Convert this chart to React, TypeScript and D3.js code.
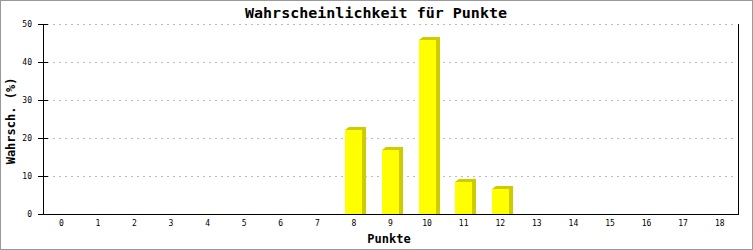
import React from "react";
import * as d3 from "d3";

const categories: string[] = ["0","1","2","3","4","5","6","7","8","9","10","11","12","13","14","15","16","17","18"];
const values: number[] = [0,0,0,0,0,0,0,0,22,16.9,45.9,8.4,6.6,0,0,0,0,0,0];
const yTicks: number[] = [0,10,20,30,40,50];
const title = "Wahrscheinlichkeit für Punkte";
const xTitle = "Punkte";
const yTitle = "Wahrsch. (%)";

export default function App() {
  const W = 753, H = 250;
  const left = 43, right = 738, top = 24, bottom = 214;
  const x = d3.scaleBand<string>().domain(categories).range([left, right]);
  const y = d3.scaleLinear().domain([0, 50]).range([bottom, top]);
  const bw = 17;
  const font = "'DejaVu Sans Mono', monospace";
  return (
    <svg width={W} height={H} style={{ position: "fixed", left: 0, top: 0 }} shapeRendering="crispEdges">
      <rect x={0.5} y={0.5} width={W - 1} height={H - 1} fill="#fff" stroke="#999" />
      {yTicks.filter(t => t > 0).map(t => (
        <line key={"g" + t} x1={left + 4} x2={right - 3} y1={Math.round(y(t)) + 0.5} y2={Math.round(y(t)) + 0.5}
          stroke="#bbb" strokeDasharray="2,4" />
      ))}
      {values.map((v, i) => {
        if (v <= 0) return null;
        const cx = (x(categories[i]) as number) + x.bandwidth() / 2;
        const x0 = Math.round(cx - bw / 2);
        const x1 = x0 + bw;
        const yt = Math.round(y(v));
        const pts = [[x0, yt], [x0 + 4, yt - 3], [x1 + 4, yt - 3], [x1 + 4, bottom], [x1, bottom]]
          .map(p => p.join(",")).join(" ");
        return (
          <g key={"b" + i}>
            <polygon points={pts} fill="#cccc00" shapeRendering="auto" />
            <rect x={x0} y={yt} width={bw} height={bottom - yt} fill="#ffff00" />
          </g>
        );
      })}
      <line x1={left + 0.5} x2={left + 0.5} y1={top} y2={bottom} stroke="#000" />
      <line x1={right + 0.5} x2={right + 0.5} y1={top} y2={bottom} stroke="#000" />
      <line x1={left - 5} x2={right + 1} y1={bottom + 0.5} y2={bottom + 0.5} stroke="#000" />
      {yTicks.map(t => (
        <g key={"t" + t}>
          <line x1={left - 5} x2={left + 5} y1={Math.round(y(t)) + 0.5} y2={Math.round(y(t)) + 0.5} stroke="#000" />
          <text x={32} y={y(t) + 3} textAnchor="end" fontFamily={font} fontSize={8} fill="#000">{t}</text>
        </g>
      ))}
      {categories.map(c => (
        <text key={"x" + c} x={(x(c) as number) + x.bandwidth() / 2} y={225.5} textAnchor="middle"
          fontFamily={font} fontSize={8} fill="#000">{c}</text>
      ))}
      <text x={376} y={18} textAnchor="middle" fontFamily={font} fontWeight="bold" fontSize={14}
        textLength={262} lengthAdjust="spacingAndGlyphs" fill="#000">{title}</text>
      <text x={389} y={243} textAnchor="middle" fontFamily={font} fontWeight="bold" fontSize={12} fill="#000">{xTitle}</text>
      <text transform={`translate(15,121) rotate(-90)`} textAnchor="middle" fontFamily={font} fontWeight="bold"
        fontSize={12} fill="#000">{yTitle}</text>
    </svg>
  );
}
